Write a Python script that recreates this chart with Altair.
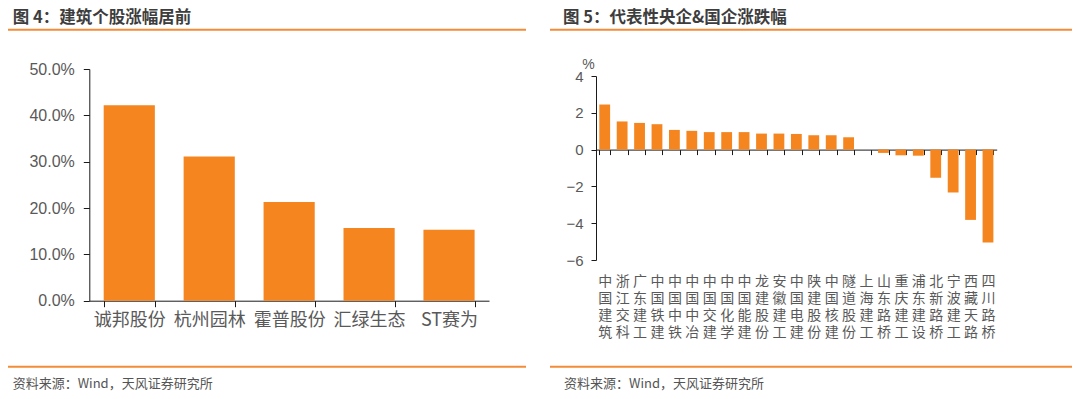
import altair as alt
import pandas as pd

# ---------------- data ----------------
left_names = ["诚邦股份", "杭州园林", "霍普股份", "汇绿生态", "ST赛为"]
left_values = [42.2, 31.1, 21.3, 15.7, 15.3]
left_ticks = [0, 10, 20, 30, 40, 50]

right_names = ["中国建筑", "浙江交科", "广东建工", "中国铁建", "中国中铁", "中国中冶",
               "中国交建", "中国化学", "中国能建", "龙建股份", "安徽建工", "中国电建",
               "陕建股份", "中国核建", "隧道股份", "上海建工", "山东路桥", "重庆建工",
               "浦东建设", "北新路桥", "宁波建工", "西藏天路", "四川路桥"]
right_values = [2.45, 1.53, 1.45, 1.38, 1.07, 1.02, 0.95, 0.95, 0.95, 0.87, 0.87, 0.85,
                0.78, 0.78, 0.67, 0.0, -0.18, -0.31, -0.33, -1.53, -2.33, -3.82, -5.05]
right_ticks = [-6, -4, -2, 0, 2, 4]

title_left = "图 4：建筑个股涨幅居前"
title_right = "图 5：代表性央企&国企涨跌幅"
source_text = "资料来源：Wind，天风证券研究所"
unit_label = "%"

# ---------------- style ----------------
W, H = 1064, 383
ORANGE = "#F4851F"
LINE = "#F28C38"
LABEL = "#595959"
AXIS = "#1a1a1a"
FONT = "Noto Sans CJK SC"

left_df = pd.DataFrame({"name": left_names, "value": left_values})
right_df = pd.DataFrame({"name": right_names, "value": right_values})

# left bars
L_X0, L_X1 = 81.3, 481.0
L_Y0, L_Y1 = 292.7, 61.0
left_x_scale = alt.Scale(domain=left_names, range=[L_X0, L_X1], paddingInner=0.36, paddingOuter=0.18)
left_bars = alt.Chart(left_df).mark_bar(color=ORANGE).encode(
    x=alt.X("name:N", sort=left_names, scale=left_x_scale,
            axis=alt.Axis(title=None, orient="bottom", offset=-(H - L_Y0), tickBand="extent",
                          tickSize=6, labelFontSize=18, labelPadding=5, labelAngle=0,
                          labelFont=FONT, labelColor=LABEL, domainColor=AXIS, tickColor=AXIS)),
    y=alt.Y("value:Q", scale=alt.Scale(domain=[0, 50], range=[L_Y0, L_Y1], nice=False, zero=True),
            axis=alt.Axis(title=None, orient="left", offset=-L_X0, values=left_ticks, grid=False,
                          tickSize=6, labelPadding=9, labelFontSize=16, labelFont="Liberation Sans",
                          labelColor=LABEL, domainColor=AXIS, tickColor=AXIS,
                          labelExpr="format(datum.value, '.1f') + '%'")),
)

# right bars
R_X0, R_X1 = 588.0, 988.7
R_Y0, R_Y1 = 252.0, 68.0
R_ZERO = R_Y1 + (R_Y0 - R_Y1) * 4 / 10
right_x_scale = alt.Scale(domain=right_names, range=[R_X0, R_X1], paddingInner=0.38, paddingOuter=0.19)
right_bars = alt.Chart(right_df).mark_bar(color=ORANGE).encode(
    x=alt.X("name:N", sort=right_names, scale=right_x_scale,
            axis=alt.Axis(title=None, orient="bottom", offset=-(H - R_ZERO), tickBand="extent",
                          labels=False, tickSize=5, domainColor=AXIS, tickColor=AXIS)),
    y=alt.Y("value:Q", scale=alt.Scale(domain=[-6, 4], range=[R_Y0, R_Y1], nice=False),
            axis=alt.Axis(title=unit_label, orient="left", offset=-R_X0, values=right_ticks,
                          grid=False, tickSize=5, labelPadding=8, labelFontSize=15,
                          labelFont="Liberation Sans", labelColor=LABEL, domainColor=AXIS,
                          tickColor=AXIS, format="d",
                          titleAngle=0, titleX=-8, titleY=56, titleAlign="center",
                          titleBaseline="middle", titleFontSize=14, titleFontWeight="normal",
                          titleFont="Liberation Sans", titleColor=LABEL)),
)

# right category labels (vertical text, at bottom of the plot)
right_labels = alt.Chart(right_df).mark_point(opacity=0).encode(
    x=alt.X("name:N", sort=right_names, scale=right_x_scale,
            axis=alt.Axis(title=None, orient="bottom", offset=-(H - R_Y0), domain=False,
                          ticks=False, labelPadding=14, labelFontSize=14, labelFont=FONT,
                          labelColor=LABEL, labelAngle=0, labelLineHeight=17,
                          labelExpr="split(datum.label, '')")),
)


def text_layer(txt, x, y, size, weight="normal", color="#404040"):
    return alt.Chart(pd.DataFrame({"t": [txt]})).mark_text(
        align="left", baseline="middle", fontSize=size, fontWeight=weight, font=FONT, color=color
    ).encode(text="t:N", x=alt.value(x), y=alt.value(y))


def hline(x1, x2, y):
    return alt.Chart(pd.DataFrame({"k": [0]})).mark_rule(color=LINE, strokeWidth=2).encode(
        x=alt.value(x1), x2=alt.value(x2), y=alt.value(y))


deco = [
    text_layer(title_left, 4.7, 9.5, 16.5, "bold", "#3d3d3d"),
    text_layer(title_right, 555, 9.5, 16.5, "bold", "#3d3d3d"),
    hline(0, 518, 21.7),
    hline(542, W, 21.7),
    hline(0, 518, 358.7),
    hline(542, W, 358.7),
    text_layer(source_text, 4.7, 375.5, 13, "normal", "#555555"),
    text_layer(source_text, 556, 375.5, 13, "normal", "#555555"),
]

chart = alt.layer(left_bars, right_bars, right_labels, *deco).resolve_scale(
    x="independent", y="independent"
).properties(
    width=W, height=H, autosize=alt.AutoSizeParams(type="none"), padding=0
).configure_view(strokeWidth=0)

chart.save("out.html", embed_options={"renderer": "svg", "actions": False})
